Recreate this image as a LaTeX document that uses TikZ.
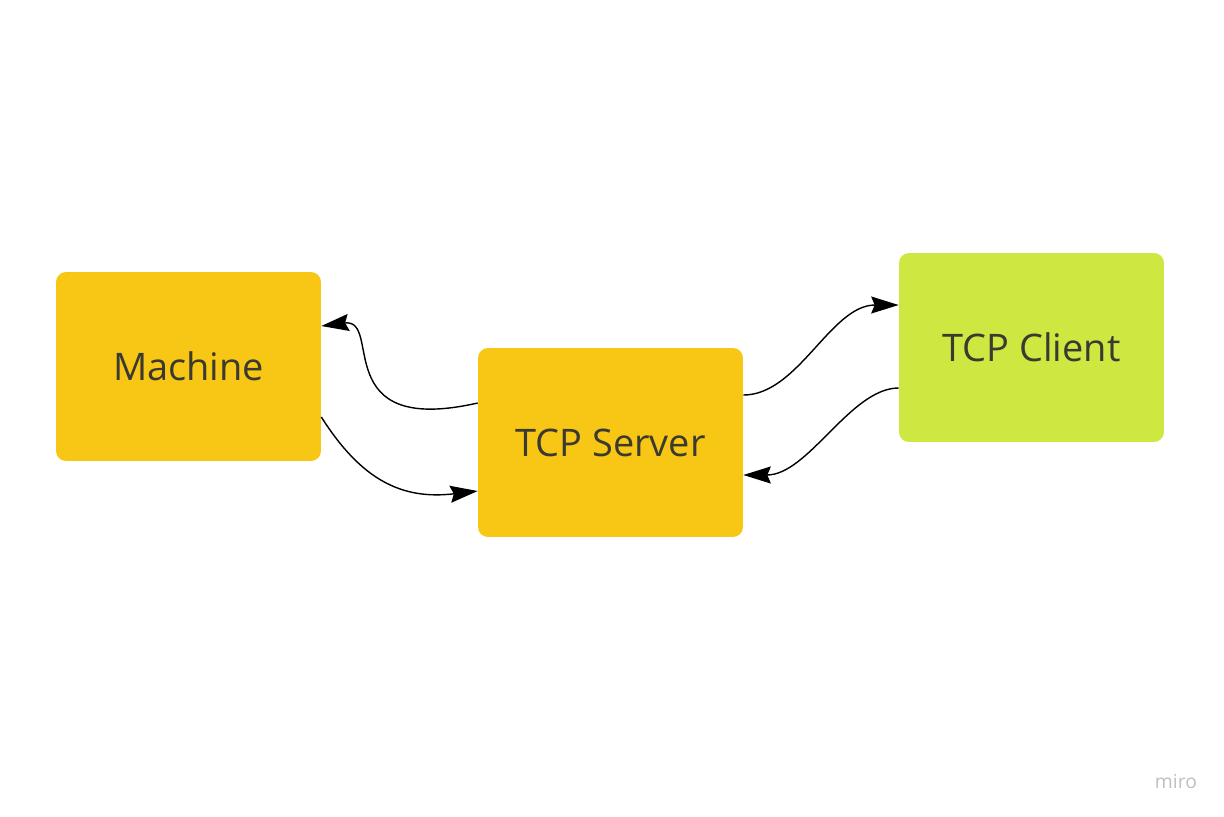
\documentclass[tikz,border=0pt]{standalone}
\usepackage{fontspec}
\setmainfont{Open Sans}
\usetikzlibrary{arrows.meta}

\definecolor{boxyellow}{HTML}{F8C614}
\definecolor{boxgreen}{HTML}{CFE741}
\definecolor{labelgray}{HTML}{3A3A30}

\tikzset{
  block/.style={rounded corners=0.2cm, minimum width=5.3cm, minimum height=3.78cm,
    text=labelgray, font=\fontsize{21.6}{26}\selectfont},
  link/.style={line width=0.8pt, -{Stealth[length=0.55cm,width=0.34cm,inset=0.07cm]}},
}

\begin{document}
\begin{tikzpicture}[x=0.02cm, y=-0.02cm]
\useasboundingbox (0,0) rectangle (1224,816);
% Draw boxes
\node[block, fill=boxyellow] (machine) at (188.5,366.5) {Machine};
\node[block, fill=boxyellow] (server) at (610.5,442.5) {TCP Server};
\node[block, fill=boxgreen] (client) at (1031.5,347.5) {TCP Client};
% Machine and server
\draw[link] ([yshift=0.79cm]server.west) .. controls +(-150,34) and +(62,-8) .. ([yshift=0.81cm]machine.east);
\draw[link] ([yshift=-1.01cm]machine.east) .. controls +(40,63) and +(-76,9) .. ([yshift=-0.97cm]server.west);
% Server and client
\draw[link] ([yshift=0.95cm]server.east) .. controls +(55,0) and +(-68,0) .. ([yshift=0.85cm]client.west);
\draw[link] ([yshift=-0.81cm]client.west) .. controls +(-48,0) and +(65,0) .. ([yshift=-0.65cm]server.east);
% Watermark
\node[text=black!25, font=\fontsize{11}{13}\selectfont] (miro) at (1176,781) {miro};
\end{tikzpicture}
\end{document}
